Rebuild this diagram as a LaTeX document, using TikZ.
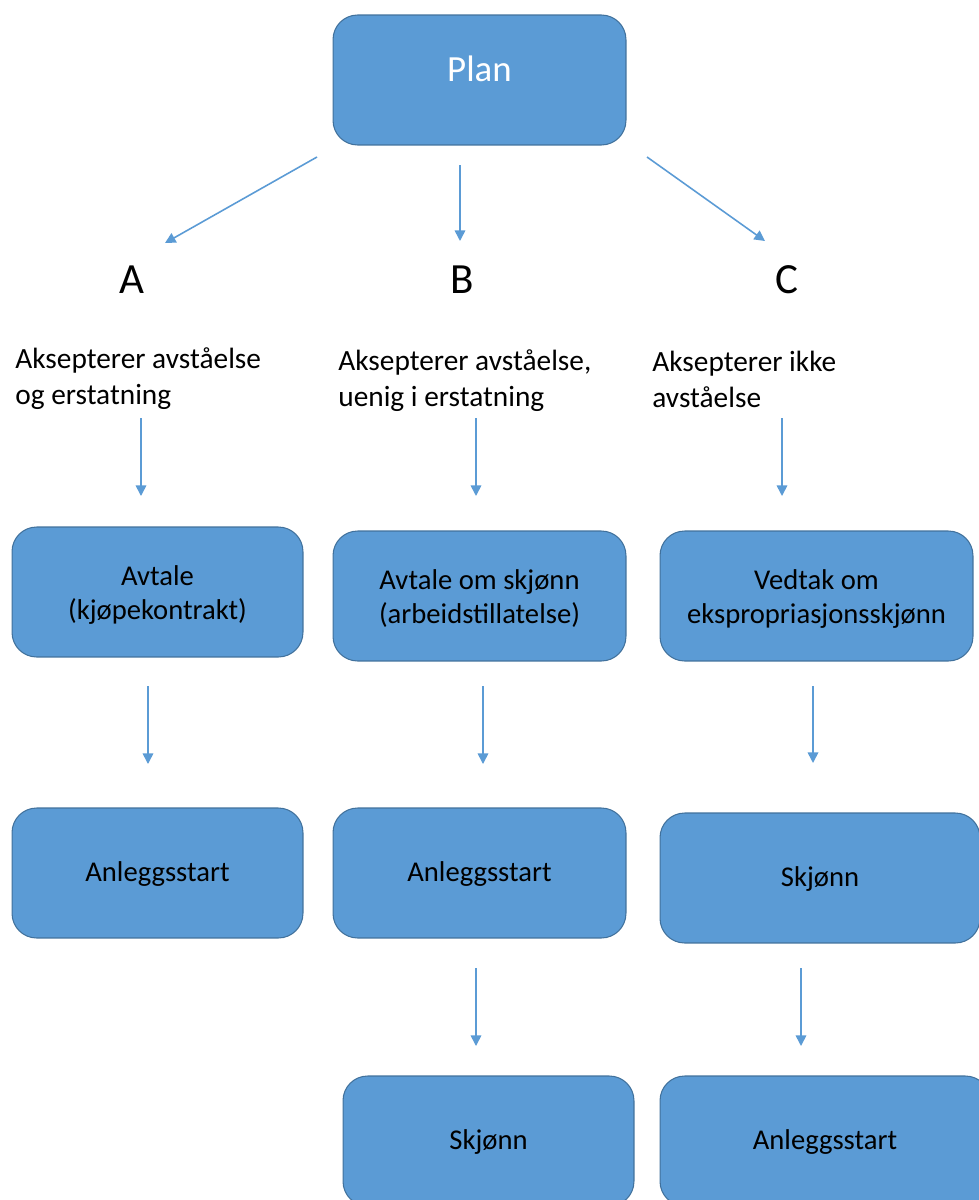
\documentclass[tikz,border=0pt]{standalone}
\usepackage{fontspec}
\setmainfont{Carlito}
\usetikzlibrary{arrows.meta}
\definecolor{boxblue}{HTML}{5B9BD5}
\definecolor{boxline}{HTML}{41719C}
\begin{document}
\begin{tikzpicture}[x=0.02cm, y=-0.02cm]
\tikzset{ >={Triangle[length=6pt,width=6pt]},
  box/.style={fill=boxblue, draw=boxline, line width=0.6pt, rounded corners=14pt,
    minimum height=2.6cm, align=center, inner sep=0pt,
    text height=11.5pt, text depth=1.3pt,
    font=\fontsize{16.3}{19.3}\selectfont},
  boxtwo/.style={box, text height=33pt, text depth=1.8pt},
  arr/.style={->, boxblue, line width=0.9pt},
  choice/.style={font=\fontsize{24.5}{28}\selectfont},
  note/.style={anchor=west, align=left, inner sep=0pt, font=\fontsize{16.7}{20.4}\selectfont},
}
\useasboundingbox (0,0) rectangle (979,1200);
\clip (0,0) rectangle (979,1200);

\node [box, minimum width=5.86cm, text=white, text height=10pt, text depth=7.8pt,
  font=\fontsize{21}{25}\selectfont] (plan) at (479.5,80) {Plan};

\node [choice] (A) at (132,280) {A};
\node [choice] (B) at (462,280) {B};
\node [choice] (C) at (787,280) {C};

\node [note] (tA) at (15,379) {Aksepterer avståelse\\og erstatning};
\node [note] (tB) at (338,381) {Aksepterer avståelse,\\uenig i erstatning};
\node [note] (tC) at (652,379) {Aksepterer ikke\\avståelse};

\node [boxtwo, minimum width=5.82cm] (avtA) at (157.5,592) {Avtale\\(kjøpekontrakt)};
\node [boxtwo, minimum width=5.86cm] (avtB) at (479.5,596) {Avtale om skjønn\\(arbeidstillatelse)};
\node [boxtwo, minimum width=6.26cm] (avtC) at (816.5,596) {Vedtak om\\ekspropriasjonsskjønn};

\node [box, minimum width=5.82cm] (anlA) at (157.5,873) {Anleggsstart};
\node [box, minimum width=5.86cm] (anlB) at (479.5,873) {Anleggsstart};
\node [box, minimum width=6.40cm] (skjC) at (820,878) {Skjønn};

\node [box, minimum width=5.82cm] (skjB) at (488.5,1141) {Skjønn};
\node [box, minimum width=6.60cm] (anlC) at (825,1141) {Anleggsstart};

% arrow ends
\coordinate (pA0) at (317,157); \coordinate (pA1) at (165,243);
\coordinate (pB0) at (460,165); \coordinate (pB1) at (460,241);
\coordinate (pC0) at (647,157); \coordinate (pC1) at (765,241);
\coordinate (tA0) at (141,418); \coordinate (tA1) at (141,496);
\coordinate (tB0) at (476,418); \coordinate (tB1) at (476,496);
\coordinate (tC0) at (782,418); \coordinate (tC1) at (782,496);
\coordinate (aA0) at (148,686); \coordinate (aA1) at (148,764);
\coordinate (aB0) at (483,686); \coordinate (aB1) at (483,764);
\coordinate (aC0) at (813,686); \coordinate (aC1) at (813,763);
\coordinate (sB0) at (476,968); \coordinate (sB1) at (476,1046);
\coordinate (sC0) at (801,968); \coordinate (sC1) at (801,1046);

\draw [arr] (pA0) -- (pA1);
\draw [arr] (pB0) -- (pB1);
\draw [arr] (pC0) -- (pC1);
\draw [arr] (tA0) -- (tA1);
\draw [arr] (tB0) -- (tB1);
\draw [arr] (tC0) -- (tC1);
\draw [arr] (aA0) -- (aA1);
\draw [arr] (aB0) -- (aB1);
\draw [arr] (aC0) -- (aC1);
\draw [arr] (sB0) -- (sB1);
\draw [arr] (sC0) -- (sC1);

\end{tikzpicture}
\end{document}
